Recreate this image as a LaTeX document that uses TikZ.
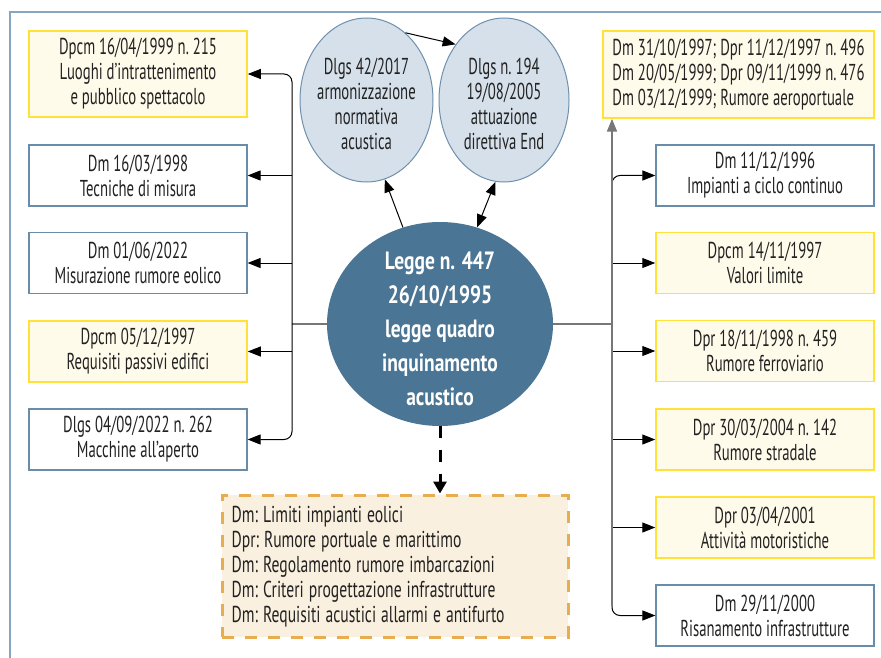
\documentclass[tikz,border=0pt]{standalone}
\usepackage{fontspec}
\setmainfont{PT Sans}[FakeStretch=0.64]
\newfontfamily\ellfont{PT Sans}[FakeStretch=0.78]
\newfontfamily\dfont{PT Sans}[FakeStretch=0.68]
\usetikzlibrary{arrows.meta,shapes.geometric}
\definecolor{frameblue}{HTML}{87A6C0}
\definecolor{boxblue}{HTML}{6A8CAB}
\definecolor{ylwborder}{HTML}{FFE138}
\definecolor{ylwfill}{HTML}{FFFBEA}
\definecolor{ellfill}{HTML}{D6E0EA}
\definecolor{ellborder}{HTML}{6F90AD}
\definecolor{mainfill}{HTML}{4A7594}
\definecolor{dashborder}{HTML}{E8AD4F}
\definecolor{dashfill}{HTML}{FAF0DF}
\definecolor{txt}{HTML}{222222}
\definecolor{busgray}{HTML}{777777}
\newcommand\bxfont{\fontsize{23}{25}\selectfont\frenchspacing}
\newcommand\dxfont{\dfont\fontsize{23}{25}\selectfont\frenchspacing\spaceskip=5pt plus 1pt minus 1pt\relax}
\begin{document}
\begin{tikzpicture}[x=1pt,y=-1pt,
  basebox/.style={inner sep=0pt, minimum width=218pt, minimum height=61pt, align=center, font=\bxfont, text=txt},
  ybox/.style={basebox, draw=ylwborder, fill=ylwfill, line width=1.5pt},
  bbox/.style={basebox, draw=boxblue, fill=white, line width=1.2pt},
  ell/.style={ellipse, draw=ellborder, fill=ellfill, line width=1pt, inner sep=0pt},
  elltext/.style={inner sep=0pt, align=center, font=\bxfont, text=txt},
  mainell/.style={ellipse, fill=mainfill, inner sep=0pt},
  maintext/.style={inner sep=0pt, align=center, font=\ellfont\bfseries\fontsize{25}{34}\selectfont, text=white},
  dbox/.style={draw=dashborder, fill=dashfill, line width=3pt, dash pattern=on 12pt off 11pt, inner sep=0pt},
  dtext/.style={inner sep=0pt, align=left, font=\dxfont, text=txt},
  tip/.style={-{Triangle[length=13pt,width=10pt]}},
  arr/.style={draw=black, line width=1pt, tip},
  arrb/.style={draw=black, line width=1pt, {Triangle[length=13pt,width=10pt]}-{Triangle[length=13pt,width=10pt]}},
  gline/.style={draw=busgray, line width=1.5pt},
  gbus/.style={draw=busgray, line width=2pt},
  dasharr/.style={draw=black, line width=3pt, dash pattern=on 12pt off 12pt, -{Triangle[length=12pt,width=13pt]}}
]
\useasboundingbox (0,0) rectangle (881,658);
\fill[white] (0,0) rectangle (881,658);
\draw[frameblue, line width=1.3pt] (10,658) -- (10,12) -- (881,12);

\coordinate (lv) at (292,0);
\coordinate (rv) at (612,0);
\coordinate (rbot) at (612,606);

% left boxes
\node[ybox, minimum height=86pt] (L1) at (138,74) {Dpcm 16/04/1999 n. 215\\Luoghi d’intrattenimento\\e pubblico spettacolo};
\node[bbox] (L2) at (138,175.5) {Dm 16/03/1998\\Tecniche di misura};
\node[bbox] (L3) at (138,263) {Dm 01/06/2022\\Misurazione rumore eolico};
\node[ybox] (L4) at (138,351.5) {Dpcm 05/12/1997\\Requisiti passivi edifici};
\node[bbox] (L5) at (138,439.5) {Dlgs 04/09/2022 n. 262\\Macchine all’aperto};

% right boxes
\node[ybox, minimum width=271pt, minimum height=87pt, align=left] (R0) at (738.5,74.5) {Dm 31/10/1997; Dpr 11/12/1997 n. 496\\Dm 20/05/1999; Dpr 09/11/1999 n. 476\\Dm 03/12/1999; Rumore aeroportuale};
\node[bbox] (R1) at (765,175.5) {Dm 11/12/1996\\Impianti a ciclo continuo};
\node[ybox] (R2) at (765,263) {Dpcm 14/11/1997\\Valori limite};
\node[ybox] (R3) at (765,351) {Dpr 18/11/1998 n. 459\\Rumore ferroviario};
\node[ybox] (R4) at (765,439.5) {Dpr 30/03/2004 n. 142\\Rumore stradale};
\node[ybox] (R5) at (765,527.5) {Dpr 03/04/2001\\Attività motoristiche};
\node[bbox] (R6) at (765,615.5) {Dm 29/11/2000\\Risanamento infrastrutture};

% ellipses
\node[ell, minimum width=133pt, minimum height=164pt] (E1) at (366.5,100) {};
\node[elltext] (E1t) at ([yshift=-4pt]E1.center) {Dlgs 42/2017\\armonizzazione\\normativa\\acustica};
\node[ell, minimum width=130pt, minimum height=164pt] (E2) at (504,100) {};
\node[elltext] (E2t) at ([yshift=-4pt]E2.center) {Dlgs n. 194\\19/08/2005\\attuazione\\direttiva End};
\node[mainell, minimum width=226pt, minimum height=204pt] (M) at (440,324) {};
\node[maintext] (Mt) at ([yshift=-5pt]M.center) {Legge n. 447\\26/10/1995\\legge quadro\\inquinamento\\acustico};

% dashed box
\node[dbox, minimum width=346pt, minimum height=142pt] (D) at (395,566) {};
\node[dtext, anchor=west] (Dt) at ([xshift=11pt,yshift=-1pt]D.west) {Dm: Limiti impianti eolici\\Dpr: Rumore portuale e marittimo\\Dm: Regolamento rumore imbarcazioni\\Dm: Criteri progettazione infrastrutture\\Dm: Requisiti acustici allarmi e antifurto};

% ellipse connectors
\draw[arr] (E1.60) -- (E2.131);
\draw[arr] (M.111) -- (E1.283);
\draw[arrb] (M.69) -- (E2.264);
\draw[dasharr] (M.south) -- (M.south |- D.north);

% left bus
\draw[gline] (M.west) -- (M.west -| lv);
\draw[arr, rounded corners=8pt] (M.west -| lv) |- (L1.east);
\draw[arr, rounded corners=8pt] (M.west -| lv) |- (L5.east);
\draw[arr] (L2.east -| lv) -- (L2.east);
\draw[arr] (L3.east -| lv) -- (L3.east);
\draw[arr] (L4.east -| lv) -- (L4.east);

% right bus
\draw[arr, rounded corners=8pt] (M.east -| rv) |- (R1.west);
\draw[arr, rounded corners=8pt] (M.east -| rv) |- (R6.west);
\draw[arr] (R2.west -| rv) -- (R2.west);
\draw[arr] (R3.west -| rv) -- (R3.west);
\draw[arr] (R4.west -| rv) -- (R4.west);
\draw[arr] (R5.west -| rv) -- (R5.west);
\draw[gline] (M.east) -- (M.east -| rv);
\draw[gbus, tip] (rbot) -- (rv |- R0.south);
\end{tikzpicture}
\end{document}
